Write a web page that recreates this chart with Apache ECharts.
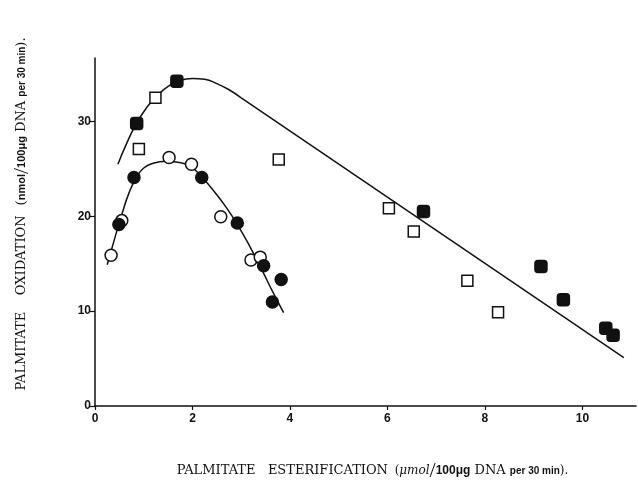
<!DOCTYPE html>
<html><head><meta charset="utf-8">
<script src="https://cdn.jsdelivr.net/npm/echarts@6/dist/echarts.min.js"></script>
<style>html,body{margin:0;padding:0;background:#fff}#c{width:638px;height:487px}</style>
</head><body><div id="c"></div>
<script>
// tick labels
const xTicks = [0, 2, 4, 6, 8, 10];
const yTicks = [0, 10, 20, 30];
// open circles (x, y)
const openCircleX = [0.33, 0.55, 1.52, 1.98, 2.58, 3.20, 3.39];
const openCircleY = [15.9, 19.55, 26.2, 25.5, 19.95, 15.4, 15.7];
// filled circles
const filledCircleX = [0.49, 0.80, 2.19, 2.92, 3.46, 3.64, 3.82];
const filledCircleY = [19.15, 24.1, 24.1, 19.3, 14.8, 10.96, 13.35];
// open squares
const openSquareX = [0.90, 1.24, 3.77, 6.03, 6.54, 7.64, 8.27];
const openSquareY = [27.1, 32.5, 26.0, 20.85, 18.4, 13.2, 9.9];
// filled squares
const filledSquareX = [0.855, 1.68, 6.74, 9.15, 9.61, 10.48, 10.63];
const filledSquareY = [29.8, 34.25, 20.5, 14.7, 11.2, 8.2, 7.45];
// fitted curve through circles
const circleCurveX = [0.25, 0.40, 0.55, 0.70, 0.85, 1.00, 1.20, 1.45, 1.70, 1.95, 2.20, 2.45, 2.70, 2.95, 3.20, 3.45, 3.65, 3.87];
const circleCurveY = [14.9, 17.6, 20.2, 22.5, 24.1, 25.1, 25.6, 25.8, 25.7, 25.3, 24.1, 22.6, 20.9, 18.9, 16.6, 14.1, 12.0, 9.85];
// fitted curve through squares
const squareCurveX = [0.47, 0.65, 0.85, 1.05, 1.25, 1.50, 1.75, 2.00, 2.25, 2.50, 2.75, 3.00];
const squareCurveY = [25.5, 27.7, 29.8, 31.4, 32.6, 33.7, 34.35, 34.55, 34.45, 34.0, 33.35, 32.5];
const squareLineX = [3.00, 10.85];
const squareLineY = [32.5, 5.1];

const zip = (a, b) => a.map((v, i) => [v, b[i]]);
const black = '#111';
const lineSeries = (x, y, smooth) => ({
  type: 'line', data: zip(x, y), smooth: smooth, showSymbol: false, symbol: 'none',
  lineStyle: { color: black, width: 1.5 }, z: 2, silent: true, animation: false
});
const scatter = (x, y, symbol, filled, size) => ({
  type: 'scatter', data: zip(x, y), symbol: symbol, symbolSize: size,
  itemStyle: { color: filled ? black : '#fff', borderColor: black, borderWidth: 1.5, opacity: 1 },
  z: 5, animation: false
});

const chart = echarts.init(document.getElementById('c'));
chart.setOption({
  backgroundColor: '#fff',
  animation: false,
  grid: { left: 95, right: 2, top: 58, bottom: 76 },
  xAxis: {
    type: 'value', min: 0, max: 11.1, interval: 2,
    splitLine: { show: false },
    axisLine: { lineStyle: { color: black, width: 1.5 } },
    axisTick: { length: 4, lineStyle: { color: black, width: 1.2 }, customValues: xTicks },
    axisLabel: { customValues: xTicks, color: black, fontFamily: 'Liberation Sans', fontWeight: 'bold', fontSize: 12, margin: 7 },
    name: '{s|PALMITATE   ESTERIFICATION}  {p|(}{u|μmol}{sl|/}{b|100μg}{u2| DNA }{c|per 30 min}{p|).}',
    nameLocation: 'middle', nameGap: 54,
    nameTextStyle: {
      padding: [0, 0, 0, 14],
      rich: {
        s: { fontFamily: 'DejaVu Serif', fontSize: 13, color: black },
        p: { fontFamily: 'DejaVu Serif', fontSize: 12, color: black },
        u: { fontFamily: 'DejaVu Serif', fontSize: 12, fontStyle: 'italic', color: black },
        sl: { fontFamily: 'Liberation Serif', fontSize: 22, color: black },
        b: { fontFamily: 'Liberation Sans', fontWeight: 'bold', fontSize: 12, color: black },
        u2: { fontFamily: 'DejaVu Serif', fontSize: 13, color: black },
        c: { fontFamily: 'Liberation Sans', fontWeight: 'bold', fontSize: 10, color: black }
      }
    }
  },
  yAxis: {
    type: 'value', min: 0, max: 36.7, interval: 10,
    splitLine: { show: false },
    axisLine: { lineStyle: { color: black, width: 1.5 } },
    axisTick: { length: 5, lineStyle: { color: black, width: 1.2 }, customValues: yTicks },
    axisLabel: { customValues: yTicks, color: black, fontFamily: 'Liberation Sans', fontWeight: 'bold', fontSize: 12, margin: 4 },
    name: '{s|PALMITATE    OXIDATION}   {p|(}{b|nmol}{sl|/}{b|100μg}{u2| DNA }{c|per 30 min}{p|).}',
    nameLocation: 'middle', nameGap: 62,
    nameTextStyle: {
      padding: [0, 0, 0, 36],
      rich: {
        s: { fontFamily: 'DejaVu Serif', fontSize: 13, color: black },
        p: { fontFamily: 'DejaVu Serif', fontSize: 13, color: black },
        sl: { fontFamily: 'Liberation Serif', fontSize: 22, color: black },
        b: { fontFamily: 'Liberation Sans', fontWeight: 'bold', fontSize: 11, color: black },
        u2: { fontFamily: 'DejaVu Serif', fontSize: 13, color: black },
        c: { fontFamily: 'Liberation Sans', fontWeight: 'bold', fontSize: 10, color: black }
      }
    }
  },
  series: [
    lineSeries(circleCurveX, circleCurveY, 0.5),
    lineSeries(squareCurveX, squareCurveY, 0.5),
    lineSeries(squareLineX, squareLineY, false),
    scatter(openCircleX, openCircleY, 'circle', false, 12),
    scatter(filledCircleX, filledCircleY, 'circle', true, 12),
    scatter(openSquareX, openSquareY, 'rect', false, 11),
    scatter(filledSquareX, filledSquareY, 'roundRect', true, 12)
  ]
});
</script></body></html>
